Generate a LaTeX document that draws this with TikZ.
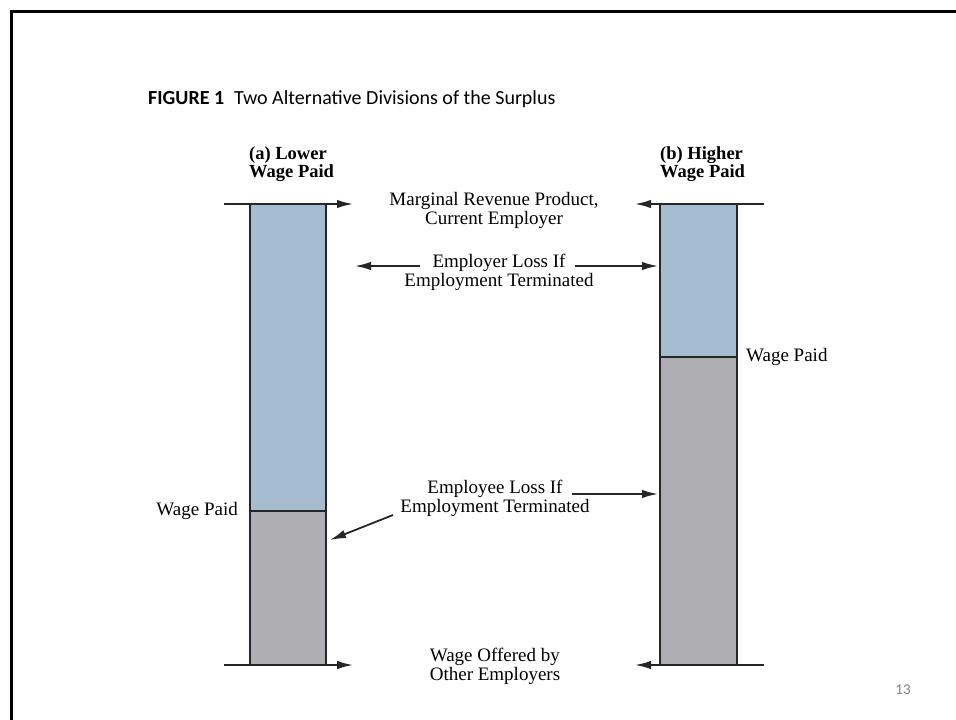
\documentclass[tikz,border=0pt]{standalone}
\usepackage{fontspec}
\setmainfont{Liberation Serif}
\newfontfamily\calfont{Carlito}
\usetikzlibrary{arrows.meta}
\definecolor{barblue}{RGB}{165,187,206}
\definecolor{bargray}{RGB}{174,174,178}
\definecolor{pagegray}{RGB}{130,130,130}
\begin{document}
\begin{tikzpicture}[x=1pt,y=-1pt,
  lbl/.style={font=\fontsize{19}{19}\selectfont, align=center, inner sep=0pt},
  head/.style={font=\fontsize{18.5}{17.5}\selectfont\bfseries, align=left, inner sep=0pt, anchor=west},
  bar/.style={draw=black!85, line width=1.8pt},
  arr/.style={line width=1.8pt, draw=black!85, -{Latex[length=16pt,width=8.5pt]}},
  tick/.style={line width=1.8pt, draw=black!85}]
\useasboundingbox (0,0) rectangle (956,720);
\fill[white] (0,0) rectangle (956,720);
% slide frame
\draw[line width=3pt] (11,730) -- (11,11) -- (970,11);
% title
\node[anchor=base west, inner sep=0pt, font=\calfont\fontsize{20}{21}\selectfont] (title) at (148,104)
  {\textbf{FIGURE 1}\enspace Two Alternative Divisions of the Surplus};
% left bar
\fill[barblue] (250,204) rectangle (326,511);
\fill[bargray] (250,511) rectangle (326,665);
\draw[bar] (250,665) -- (250,204) (326,204) -- (326,665);
\draw[bar] (250,511) -- (326,511);
% right bar
\fill[barblue] (660,204) rectangle (737,357);
\fill[bargray] (660,357) rectangle (737,665);
\draw[bar] (660,665) -- (660,204) (737,204) -- (737,665);
\draw[bar] (660,357) -- (737,357);
% coordinates
\coordinate (ltl) at (224,204); \coordinate (ltr) at (353,204);
\coordinate (lbl) at (224,665); \coordinate (lbr) at (353,665);
\coordinate (rtr) at (764,204); \coordinate (rtl) at (635,204);
\coordinate (rbr) at (764,665); \coordinate (rbl) at (635,665);
\coordinate (elA) at (420,266); \coordinate (erl) at (355,266);
\coordinate (elB) at (575,266); \coordinate (err) at (658,266);
\coordinate (eeA) at (393,515); \coordinate (eel) at (330,540);
\coordinate (eeB) at (572,494); \coordinate (eer) at (658,494);
% headings
\node[head] (ha) at (249,164) {(a) Lower\\Wage Paid};
\node[head] (hb) at (660,164) {(b) Higher\\Wage Paid};
% labels
\node[lbl] (mrp) at (494,210) {Marginal Revenue Product,\\Current Employer};
\node[lbl] (elt) at (499,272) {Employer Loss If\\Employment Terminated};
\node[lbl] (eet) at (495,498) {Employee Loss If\\Employment Terminated};
\node[lbl, align=left] (wob) at (495,666) {Wage Offered by\\Other Employers};
\node[lbl, anchor=west] (wpr) at (746,357) {Wage Paid};
\node[lbl, anchor=east] (wpl) at (238,511) {Wage Paid};
% arrows
\draw[arr] (ltl) -- (ltr);
\draw[arr] (lbl) -- (lbr);
\draw[arr] (rtr) -- (rtl);
\draw[arr] (rbr) -- (rbl);
\draw[arr] (elA) -- (erl);
\draw[arr] (elB) -- (err);
\draw[arr] (eeA) -- (eel);
\draw[arr] (eeB) -- (eer);
% page number
\node[font=\calfont\fontsize{15}{16}\selectfont, text=pagegray, inner sep=0pt] (pg) at (903,690) {13};
\end{tikzpicture}
\end{document}
